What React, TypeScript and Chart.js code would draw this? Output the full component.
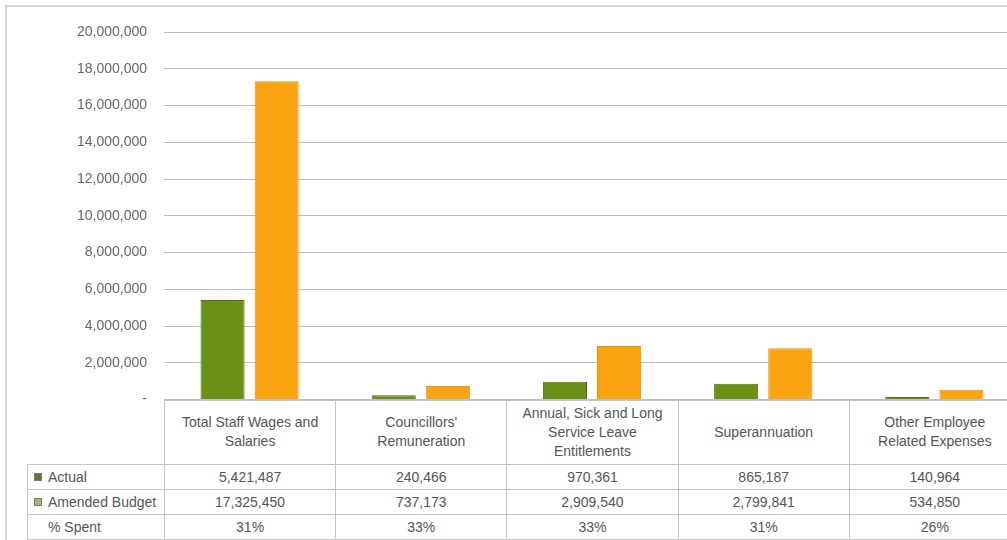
import React, { useEffect, useRef, useState } from "react";
import { Chart, registerables } from "chart.js";

Chart.register(...registerables);

const categories: string[][] = [
  ["Total Staff Wages and", "Salaries"],
  ["Councillors'", "Remuneration"],
  ["Annual, Sick and Long", "Service Leave", "Entitlements"],
  ["Superannuation"],
  ["Other Employee", "Related Expenses"],
];
const actual = [5421487, 240466, 970361, 865187, 140964];
const amendedBudget = [17325450, 737173, 2909540, 2799841, 534850];
const pctSpent = ["31%", "33%", "33%", "31%", "26%"];
const seriesNames = ["Actual", "Amended Budget", "% Spent"];
const yMax = 20000000;
const yStep = 2000000;

const FONT = "'Liberation Sans', Arial, sans-serif";
const GREEN = "#6b9016";
const ORANGE = "#fba411";

const fmt = (v: number) => v.toLocaleString("en-US");

type Geom = { left: number; colW: number; top: number };

export default function App() {
  const canvasRef = useRef<HTMLCanvasElement | null>(null);
  const [geom, setGeom] = useState<Geom | null>(null);

  useEffect(() => {
    const ctx = canvasRef.current!.getContext("2d")!;
    const chart = new Chart(ctx, {
      type: "bar",
      data: {
        labels: categories,
        datasets: [
          {
            label: seriesNames[0],
            data: actual,
            backgroundColor: GREEN,
            borderColor: "#55700f",
            borderWidth: 1,
            categoryPercentage: 0.632,
            barPercentage: 0.815,
          },
          {
            label: seriesNames[1],
            data: amendedBudget,
            backgroundColor: ORANGE,
            borderColor: "#e8940a",
            borderWidth: 1,
            categoryPercentage: 0.632,
            barPercentage: 0.815,
          },
        ],
      },
      options: {
        responsive: false,
        animation: false,
        maintainAspectRatio: false,
        layout: { padding: { left: 0, right: 0, top: 32, bottom: 10 } },
        plugins: { legend: { display: false }, tooltip: { enabled: false } },
        scales: {
          x: { type: "category", display: false },
          y: {
            min: 0,
            max: yMax,
            border: { display: false },
            grid: { color: "#bfbfbf", drawTicks: false, lineWidth: 1 },
            ticks: {
              stepSize: yStep,
              padding: 17,
              color: "#666666",
              font: { family: FONT, size: 14 },
              callback: (v: any) => (Number(v) === 0 ? "-" : fmt(Number(v))),
            },
            afterFit: (scale: any) => {
              scale.width = 164;
            },
          },
        },
      },
    });
    setGeom({
      left: chart.chartArea.left,
      colW: (chart.chartArea.right - chart.chartArea.left) / categories.length,
      top: chart.chartArea.bottom,
    });
    return () => chart.destroy();
  }, []);

  const border = "1px solid #c4c4c4";
  const legendW = 137;
  const cellStyle: React.CSSProperties = {
    border,
    textAlign: "center",
    padding: "0 2px",
    color: "#555555",
    whiteSpace: "nowrap",
    overflow: "hidden",
  };
  const rows = [
    { name: seriesNames[0], marker: "#5e7633", values: actual.map(fmt) },
    { name: seriesNames[1], marker: "#a3b56e", values: amendedBudget.map(fmt) },
    { name: seriesNames[2], marker: null as string | null, values: pctSpent },
  ];

  return (
    <div
      style={{
        position: "absolute",
        left: 0,
        top: 0,
        width: 1007,
        height: 540,
        overflow: "hidden",
        background: "#fff",
        fontFamily: FONT,
        fontSize: 14,
      }}
    >
      <div
        style={{
          position: "absolute",
          left: 5,
          top: 5,
          width: 1100,
          height: 600,
          borderLeft: "2px solid #d6d6d6",
          borderTop: "2px solid #d6d6d6",
        }}
      />
      <canvas
        ref={canvasRef}
        width={1020}
        height={425}
        style={{ position: "absolute", left: 0, top: 0, width: 1020, height: 425 }}
      />
      {geom && (
        <table
          style={{
            position: "absolute",
            left: geom.left - legendW,
            top: geom.top,
            borderCollapse: "collapse",
            tableLayout: "fixed",
            width: legendW + geom.colW * categories.length,
            fontFamily: FONT,
            fontSize: 14,
            background: "#fff",
          }}
        >
          <colgroup>
            <col style={{ width: legendW }} />
            {categories.map((_, i) => (
              <col key={i} style={{ width: geom.colW }} />
            ))}
          </colgroup>
          <tbody>
            <tr style={{ height: 64 }}>
              <td style={{ border: "none", background: "transparent" }} />
              {categories.map((c, i) => (
                <td key={i} style={{ ...cellStyle, lineHeight: "19px" }}>
                  {c.map((line, j) => (
                    <div key={j}>{line}</div>
                  ))}
                </td>
              ))}
            </tr>
            {rows.map((r, ri) => (
              <tr key={ri} style={{ height: 25 }}>
                <td style={{ ...cellStyle, textAlign: "left", paddingLeft: 6, lineHeight: "20px" }}>
                  <span
                    style={{
                      display: "inline-block",
                      width: 8,
                      height: 8,
                      marginRight: 6,
                      verticalAlign: "middle",
                      background: r.marker || "transparent",
                      border: r.marker ? "1px solid #7a7a7a" : "1px solid transparent",
                      boxSizing: "border-box",
                    }}
                  />
                  <span style={{ verticalAlign: "middle" }}>{r.name}</span>
                </td>
                {r.values.map((v, i) => (
                  <td key={i} style={{ ...cellStyle, lineHeight: "20px" }}>
                    {v}
                  </td>
                ))}
              </tr>
            ))}
          </tbody>
        </table>
      )}
    </div>
  );
}
